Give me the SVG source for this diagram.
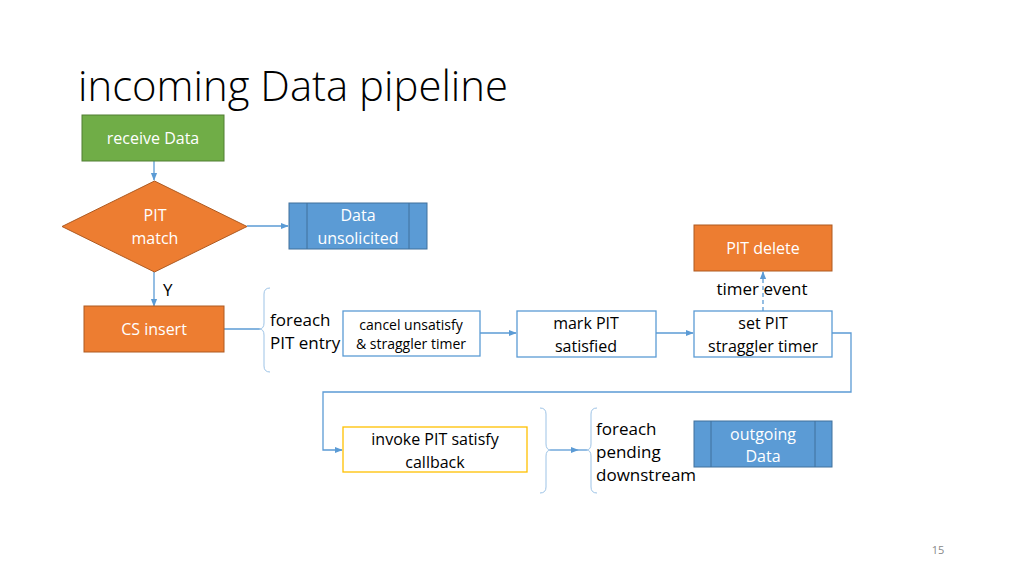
<svg xmlns="http://www.w3.org/2000/svg" width="1024" height="576" viewBox="0 0 1024 576">
<defs>
<style>
text{font-family:"Open Sans","Liberation Sans",sans-serif;}
.t{font-size:17px;fill:#000;}
.w{font-size:16px;fill:#fff;text-anchor:middle;}
.b{font-size:16px;fill:#000;text-anchor:middle;}
.c{stroke:#5B9BD5;stroke-width:1.3;fill:none;}
.box{fill:#fff;stroke:#5B9BD5;stroke-width:1.3;}
.org{fill:#ED7D31;stroke:#AE5A21;stroke-width:1;}
.blu{fill:#5B9BD5;stroke:#41719C;stroke-width:1;}
.br{stroke:#9DC3E6;stroke-width:1;fill:none;}
</style>
<marker id="a" viewBox="0 0 10 10" refX="9" refY="5" markerWidth="6" markerHeight="6" orient="auto"><path d="M0,1 L10,5 L0,9 Z" fill="#5B9BD5"/></marker>
</defs>
<rect width="1024" height="576" fill="#fff"/>
<text x="78" y="101" style="font-size:42px;font-weight:300" fill="#000" textLength="430" lengthAdjust="spacingAndGlyphs">incoming Data pipeline</text>
<text x="938" y="554" style="font-size:11px" fill="#888" text-anchor="middle">15</text>

<g id="connectors">
<path class="c" d="M154,161 V180" marker-end="url(#a)"/>
<path class="c" d="M247,226 H288" marker-end="url(#a)"/>
<path class="c" d="M154,272 V306" marker-end="url(#a)"/>
<path class="c" d="M224,329 H260"/>
<path class="c" d="M480,333 H516" marker-end="url(#a)"/>
<path class="c" d="M656,333 H693" marker-end="url(#a)"/>
<path class="c" d="M763,311 V272" stroke-dasharray="4,3" marker-end="url(#a)"/>
<path class="c" d="M832,333 H851 V392 H323 V450 H342" marker-end="url(#a)"/>
<path class="c" d="M550,450 H578" marker-end="url(#a)"/>
<path class="c" d="M578,450 H587"/>
<text x="163" y="296" class="t">Y</text>
<text x="762" y="295" class="t" text-anchor="middle">timer event</text>
</g>

<g id="receive"><rect x="82" y="115" width="142" height="46" fill="#70AD47" stroke="#507E32"/><text x="153" y="144" class="w">receive Data</text></g>
<g id="pitmatch"><path class="org" d="M154.5,181 L247,226.5 L154.5,272 L62,226.5 Z"/><text x="155" y="221" class="w">PIT</text><text x="155" y="244" class="w">match</text></g>
<g id="unsolicited"><rect class="blu" x="289" y="203" width="138" height="46"/><path d="M307,203 V249 M409,203 V249" stroke="#41719C"/><text x="358" y="221" class="w">Data</text><text x="358" y="244" class="w">unsolicited</text></g>
<g id="csinsert"><rect class="org" x="84" y="306" width="140" height="46"/><text x="154" y="335" class="w">CS insert</text></g>
<g id="brace1"><path class="br" d="M270,288 Q264,288 264,294 V323 Q264,329 259,329 Q264,329 264,335 V366 Q264,372 270,372"/><text x="270" y="326" class="t">foreach</text><text x="270" y="349" class="t">PIT entry</text></g>
<g id="cancel"><rect class="box" x="343" y="311" width="137" height="45"/><text x="411" y="330" style="font-size:14px" text-anchor="middle">cancel unsatisfy</text><text x="411" y="349" style="font-size:14px" text-anchor="middle">&amp; straggler timer</text></g>
<g id="mark"><rect class="box" x="517" y="311" width="139" height="46"/><text x="586" y="329" class="b">mark PIT</text><text x="586" y="352" class="b">satisfied</text></g>
<g id="setpit"><rect class="box" x="694" y="311" width="138" height="46"/><text x="763" y="329" class="b">set PIT</text><text x="763" y="352" class="b">straggler timer</text></g>
<g id="pitdelete"><rect class="org" x="694" y="225" width="138" height="46"/><text x="763" y="254" class="w">PIT delete</text></g>
<g id="invoke"><rect x="343" y="427" width="184" height="45" fill="#fff" stroke="#FFC000" stroke-width="1.3"/><text x="435" y="445" class="b">invoke PIT satisfy</text><text x="435" y="468" class="b">callback</text></g>
<g id="brace2"><path class="br" d="M540,408 Q546,408 546,414 V444 Q546,450 551,450 Q546,450 546,456 V487 Q546,493 540,493"/></g>
<g id="brace3"><path class="br" d="M597,408 Q591,408 591,414 V444 Q591,450 586,450 Q591,450 591,456 V487 Q591,493 597,493"/><text x="596" y="435" class="t">foreach</text><text x="596" y="458" class="t">pending</text><text x="596" y="481" class="t">downstream</text></g>
<g id="outgoing"><rect class="blu" x="694" y="421" width="138" height="46"/><path d="M711,421 V467 M815,421 V467" stroke="#41719C"/><text x="763" y="440" class="w">outgoing</text><text x="763" y="462" class="w">Data</text></g>
</svg>
